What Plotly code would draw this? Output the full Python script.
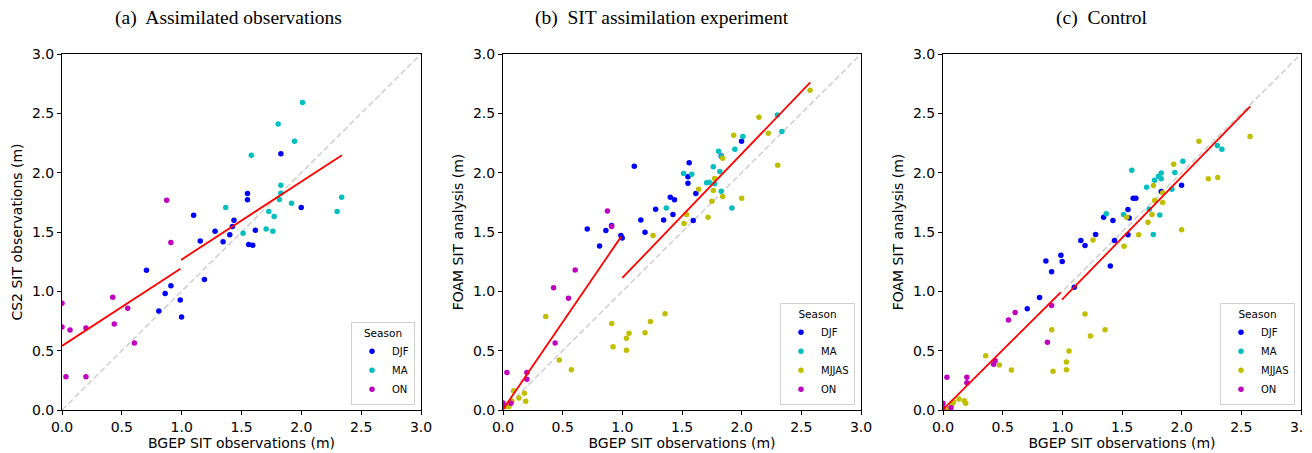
import plotly.graph_objects as go

# ---------------- data ----------------
djf_x = [0.706, 0.809, 0.862, 0.910, 0.988, 0.999, 1.100, 1.155, 1.190, 1.279, 1.346,
         1.402, 1.424, 1.437, 1.550, 1.550, 1.560, 1.594, 1.616, 1.829, 1.999]
djf_a = [1.178, 0.835, 0.981, 1.048, 0.927, 0.784, 1.641, 1.425, 1.099, 1.506, 1.417,
         1.476, 1.546, 1.599, 1.824, 1.771, 1.394, 1.388, 1.515, 2.159, 1.706]
djf_b = [1.526, 1.383, 1.512, 1.554, 1.470, 1.450, 2.055, 1.602, 1.498, 1.692, 1.602,
         1.793, 1.647, 1.771, 1.911, 1.965, 2.083, 1.596, 1.824, 2.140, 2.265]
djf_c = [0.854, 0.947, 1.256, 1.166, 1.304, 1.251, 1.034, 1.428, 1.386, 1.478, 1.625,
         1.214, 1.596, 1.428, 1.689, 1.476, 1.619, 1.785, 1.785, 1.841, 1.894]

ma_x = [1.368, 1.513, 1.582, 1.706, 1.728, 1.762, 1.773, 1.806, 1.817, 1.829, 1.829,
        1.918, 1.943, 2.010, 2.299, 2.337]
ma_a = [1.706, 1.490, 2.147, 1.526, 1.672, 1.506, 1.630, 2.411, 1.773, 1.894, 1.827,
        1.743, 2.265, 2.591, 1.672, 1.793]
ma_b = [1.703, 1.993, 1.987, 1.914, 1.920, 2.049, 1.906, 2.181, 2.010, 2.136, 1.844,
        1.703, 2.198, 2.305, 2.485, 2.347]
ma_c = [1.653, 1.647, 2.021, 1.877, 1.692, 1.478, 1.936, 1.970, 1.644, 1.998, 1.948,
        1.861, 2.001, 2.097, 2.229, 2.198]

mjjas_x = [0.02, 0.05, 0.075, 0.089, 0.134, 0.179, 0.19, 0.358, 0.472, 0.573, 0.911,
           0.922, 1.034, 1.034, 1.056, 1.19, 1.235, 1.257, 1.358, 1.517, 1.539, 1.640,
           1.718, 1.751, 1.763, 1.774, 1.841, 1.841, 1.933, 2.0, 2.145, 2.223, 2.302, 2.573]
mjjas_b = [0.03, 0.03, 0.076, 0.163, 0.101, 0.141, 0.073, 0.787, 0.422, 0.340, 0.728,
           0.534, 0.604, 0.503, 0.646, 0.652, 0.745, 1.470, 0.812, 1.571, 1.647, 1.861,
           1.625, 1.759, 1.849, 1.951, 2.122, 1.799, 2.316, 1.785, 2.468, 2.333, 2.063, 2.695]
mjjas_c = [0.014, 0.01, 0.048, 0.070, 0.093, 0.079, 0.056, 0.458, 0.379, 0.337, 0.677,
           0.326, 0.405, 0.340, 0.497, 0.809, 0.624, 1.433, 0.677, 1.380, 1.625, 1.476,
           1.582, 1.647, 1.891, 1.765, 1.748, 1.830, 2.071, 1.520, 2.265, 1.948, 1.959, 2.305]

on_x = [0.0, 0.0, 0.033, 0.067, 0.2, 0.2, 0.424, 0.437, 0.549, 0.605, 0.875, 0.910]
on_a = [0.90, 0.70, 0.28, 0.675, 0.69, 0.28, 0.95, 0.725, 0.857, 0.565, 1.768, 1.411]
on_b = [0.06, 0.03, 0.315, 0.056, 0.315, 0.259, 1.031, 0.565, 0.942, 1.180, 1.678, 1.546]
on_c = [0.056, 0.02, 0.275, 0.02, 0.275, 0.230, 0.385, 0.416, 0.759, 0.821, 0.571, 0.880]

# regression segments (below / above 1 m)
fit_a = {"x1": [0.0, 0.99], "y1": [0.54, 1.19], "x2": [0.995, 2.339], "y2": [1.265, 2.147]}
fit_b = {"x1": [0.0, 0.99], "y1": [0.005, 1.461], "x2": [1.0, 2.575], "y2": [1.113, 2.760]}
fit_c = {"x1": [0.0, 0.986], "y1": [0.005, 0.992], "x2": [0.997, 2.575], "y2": [0.930, 2.558]}

one_to_one = [0.0, 3.0]
tick_vals = [0.0, 0.5, 1.0, 1.5, 2.0, 2.5, 3.0]
titles = ["(a)  Assimilated observations", "(b)  SIT assimilation experiment", "(c)  Control"]
ylabels = ["CS2 SIT observations (m)", "FOAM SIT analysis (m)", "FOAM SIT analysis (m)"]
xlabel = "BGEP SIT observations (m)"

colors = {"DJF": "#0000ff", "MA": "#00bfbf", "MJJAS": "#bfbf00", "ON": "#bf00bf"}

panels = [
    {"series": {"DJF": (djf_x, djf_a), "MA": (ma_x, ma_a), "ON": (on_x, on_a)}, "fit": fit_a},
    {"series": {"DJF": (djf_x, djf_b), "MA": (ma_x, ma_b), "MJJAS": (mjjas_x, mjjas_b),
                "ON": (on_x, on_b)}, "fit": fit_b},
    {"series": {"DJF": (djf_x, djf_c), "MA": (ma_x, ma_c), "MJJAS": (mjjas_x, mjjas_c),
                "ON": (on_x, on_c)}, "fit": fit_c},
]

# ---------------- layout geometry ----------------
# the page body has an 8px margin, so the figure is drawn 8px smaller and offset
OFF = 8
W, H = 1312 - OFF, 453 - OFF
xdoms = [(62 - OFF, 421 - OFF), (503 - OFF, 861 - OFF), (943 - OFF, 1301 - OFF)]
ytop, ybot = 54 - OFF, 410 - OFF
title_cx = [228 - OFF, 662 - OFF, 1102 - OFF]
title_cy = 18 - OFF

fig = go.Figure()
for i, p in enumerate(panels):
    ax = "" if i == 0 else str(i + 1)
    xa, ya = "x" + ax, "y" + ax
    leg = "legend" if i == 0 else "legend" + str(i + 1)
    fig.add_trace(go.Scatter(x=one_to_one, y=one_to_one, mode="lines", xaxis=xa, yaxis=ya,
                             line=dict(color="#cfcfcf", width=1.5, dash="6px,3px"),
                             showlegend=False, hoverinfo="skip"))
    for name, (xs, ys) in p["series"].items():
        fig.add_trace(go.Scatter(x=xs, y=ys, mode="markers", name=name, xaxis=xa, yaxis=ya,
                                 marker=dict(color=colors[name], size=5.5, line=dict(width=0)),
                                 legend=leg))
    f = p["fit"]
    for sx, sy in ((f["x1"], f["y1"]), (f["x2"], f["y2"])):
        fig.add_trace(go.Scatter(x=sx, y=sy, mode="lines", xaxis=xa, yaxis=ya,
                                 line=dict(color="#ff0000", width=1.8),
                                 showlegend=False, hoverinfo="skip"))

axis_common = dict(range=[0, 3], tickvals=tick_vals, tickformat=".1f", showgrid=False,
                   zeroline=False, showline=True, linecolor="black", linewidth=1, mirror=True,
                   ticks="outside", ticklen=4, tickwidth=1, tickcolor="black", automargin=False,
                   ticklabeloverflow="allow",
                   tickfont=dict(family="DejaVu Sans", size=14, color="black"))

layout = dict(width=W, height=H, margin=dict(l=0, r=0, t=0, b=0, autoexpand=False),
              plot_bgcolor="white", paper_bgcolor="white", showlegend=True)
annotations = []
for i, (x0, x1) in enumerate(xdoms):
    ax = "" if i == 0 else str(i + 1)
    layout["xaxis" + ax] = dict(axis_common, domain=[x0 / W, x1 / W], anchor="y" + ax,
                                title=dict(text=xlabel, standoff=3,
                                           font=dict(family="DejaVu Sans", size=14, color="black")))
    layout["yaxis" + ax] = dict(axis_common, domain=[(H - ybot) / H, (H - ytop) / H],
                                anchor="x" + ax,
                                title=dict(text=ylabels[i], standoff=6,
                                           font=dict(family="DejaVu Sans", size=14, color="black")))
    leg = "legend" if i == 0 else "legend" + str(i + 1)
    layout[leg] = dict(x=(x1 - 6) / W, y=(H - ybot + 5) / H, xanchor="right", yanchor="bottom",
                       bgcolor="rgba(255,255,255,0.8)", bordercolor="#d0d0d0", borderwidth=1,
                       font=dict(family="DejaVu Sans", size=10, color="black"),
                       title=dict(text="Season", side="top center",
                                  font=dict(family="DejaVu Sans", size=10.5, color="black")),
                       itemwidth=30, tracegroupgap=0)
    annotations.append(dict(text=titles[i], x=title_cx[i] / W, y=1 - title_cy / H,
                            xref="paper", yref="paper", showarrow=False,
                            xanchor="center", yanchor="middle",
                            font=dict(family="Liberation Serif", size=19.5, color="black")))
layout["annotations"] = annotations
fig.update_layout(**layout)

fig.write_html("out.html")
